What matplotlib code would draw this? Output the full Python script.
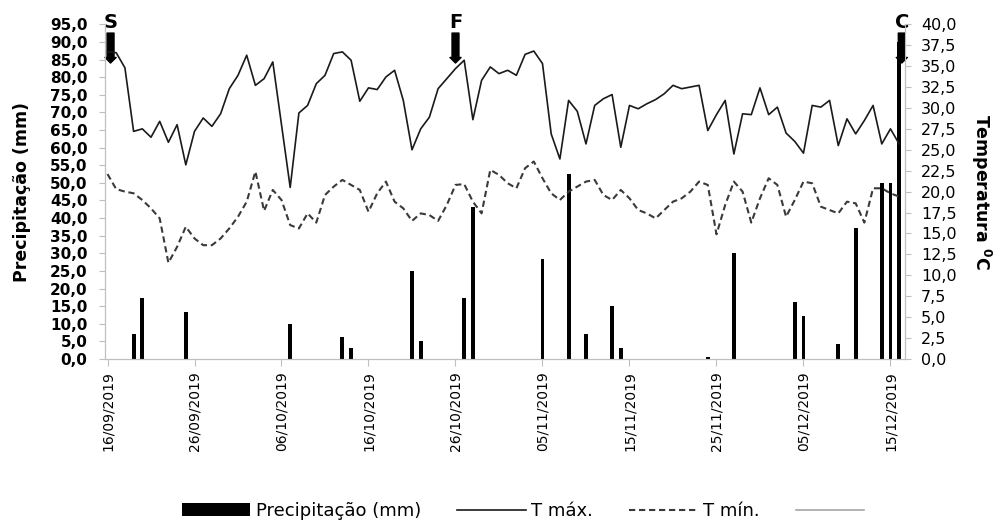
# Precipitação e temperaturas diárias, 16/09/2019 a 16/12/2019
import numpy as np
import matplotlib.pyplot as plt
from matplotlib.lines import Line2D
from matplotlib.patches import Patch

tick_days = [0, 10, 20, 30, 40, 50, 60, 70, 80, 90]
tick_labels = ['16/09/2019', '26/09/2019', '06/10/2019', '16/10/2019', '26/10/2019',
               '05/11/2019', '15/11/2019', '25/11/2019', '05/12/2019', '15/12/2019']

# precipitação diária (mm)
precip = [0, 0, 0, 7.0, 17.2, 0, 0, 0, 0, 13.2,
          0, 0, 0, 0, 0, 0, 0, 0, 0, 0,
          0, 10.0, 0, 0, 0, 0, 0, 6.2, 3.0, 0,
          0, 0, 0, 0, 0, 25.1, 5.2, 0, 0, 0,
          0, 17.2, 43.2, 0, 0, 0, 0, 0, 0, 0,
          28.4, 0, 0, 52.4, 0, 7.0, 0, 0, 15.0, 3.0,
          0, 0, 0, 0, 0, 0, 0, 0, 0, 0.5,
          0, 0, 30.0, 0, 0, 0, 0, 0, 0, 16.3,
          12.3, 0, 0, 0, 4.3, 0, 37.2, 0, 0, 50.0,
          50.0, 90.0]

t_max = [36.7, 36.6, 34.8, 27.2, 27.5, 26.5, 28.4, 25.9, 28.0, 23.2,
         27.2, 28.8, 27.8, 29.3, 32.3, 33.9, 36.3, 32.7, 33.5, 35.5,
         28.0, 20.5, 29.4, 30.3, 32.9, 33.9, 36.5, 36.7, 35.7, 30.8,
         32.4, 32.2, 33.7, 34.5, 30.9, 25.0, 27.5, 28.9, 32.3, 33.5,
         34.7, 35.7, 28.6, 33.3, 34.9, 34.1, 34.5, 33.9, 36.4, 36.8,
         35.3, 26.9, 23.9, 30.9, 29.6, 25.7, 30.3, 31.1, 31.6, 25.3,
         30.3, 29.9, 30.5, 31.0, 31.7, 32.7, 32.3, 32.5, 32.7, 27.3,
         29.2, 30.9, 24.5, 29.3, 29.2, 32.4, 29.2, 30.1, 27.0, 26.0,
         24.6, 30.3, 30.1, 30.9, 25.5, 28.7, 26.9, 28.5, 30.3, 25.7,
         27.5, 25.7]

t_min = [22.1, 20.3, 20.0, 19.8, 19.0, 18.0, 16.8, 11.5, 13.4, 15.8,
         14.4, 13.6, 13.6, 14.4, 15.6, 17.0, 18.8, 22.4, 17.7, 20.2,
         19.0, 16.0, 15.6, 17.4, 16.3, 19.6, 20.6, 21.4, 20.8, 20.2,
         17.6, 19.8, 21.2, 18.8, 18.0, 16.5, 17.4, 17.2, 16.5, 18.4,
         20.8, 20.9, 18.8, 17.4, 22.6, 22.0, 21.0, 20.4, 22.8, 23.6,
         21.6, 19.8, 19.0, 20.0, 20.6, 21.2, 21.4, 19.6, 19.0, 20.2,
         19.2, 17.8, 17.4, 16.8, 17.8, 18.8, 19.2, 20.0, 21.2, 20.8,
         14.9, 18.4, 21.2, 20.0, 16.3, 19.2, 21.6, 20.8, 17.0, 19.0,
         21.2, 21.0, 18.2, 17.8, 17.4, 18.8, 18.6, 16.3, 20.4, 20.4,
         19.8, 19.4]

# marcos S, F, C (dia, rótulo)
marks = [(0.35, 'S'), (40.0, 'F'), (91.3, 'C')]

days = np.arange(len(precip))
axis_col = '#bfbfbf'

fig = plt.figure(figsize=(10.05, 5.23), dpi=100)
ax = fig.add_axes([0.1042, 0.3136, 0.7963, 0.640])
ax2 = ax.twinx()

ax.bar(days, precip, width=0.45, color='black', zorder=2)
ax2.plot(days, t_max, color='#1a1a1a', lw=1.2, zorder=3)
ax2.plot(days, t_min, color='#3a3a3a', lw=1.5, dashes=(3.0, 1.8), zorder=3)

ax.set_xlim(-0.32, 91.67)
ax.set_ylim(0, 95)
ax2.set_ylim(0, 40)

ax.set_yticks(np.arange(0, 96, 5))
ax.set_yticklabels([f'{v:.1f}'.replace('.', ',') for v in np.arange(0, 96, 5)],
                   fontsize=11, fontweight='bold')
ax2.set_yticks(np.arange(0, 40.1, 2.5))
ax2.set_yticklabels([f'{v:.1f}'.replace('.', ',') for v in np.arange(0, 40.1, 2.5)],
                    fontsize=11.5)
ax.set_xticks(tick_days)
ax.set_xticklabels(tick_labels, rotation=90, fontsize=10)

for a in (ax, ax2):
    for s in a.spines.values():
        s.set_color(axis_col)
    a.spines['top'].set_visible(False)
ax.tick_params(axis='y', length=4.5, color=axis_col, pad=8)
ax2.tick_params(axis='y', length=4.5, color=axis_col, pad=7)
ax.tick_params(axis='x', length=5, color=axis_col, pad=4)

ax.set_ylabel('Precipitação (mm)', fontsize=12.5, fontweight='bold')
ax.yaxis.set_label_coords(-0.092, 0.5)
ax2.set_ylabel(r'Temperatura $\mathbf{^{0}}$C', fontsize=12.5, fontweight='bold',
               rotation=270, va='bottom')
ax2.yaxis.set_label_coords(1.08, 0.5)

for d, lab in marks:
    ax.annotate('', xy=(d, 84.0), xytext=(d, 92.5),
                arrowprops=dict(facecolor='black', edgecolor='black',
                                width=5, headwidth=8, headlength=4, shrink=0))
    ax.text(d, 95.5, lab, ha='center', va='center', fontsize=14,
            fontweight='bold', clip_on=False)

handles = [Patch(facecolor='black'),
           Line2D([], [], color='#1a1a1a', lw=1.2),
           Line2D([], [], color='#3a3a3a', lw=1.5, dashes=(3.0, 1.8)),
           Line2D([], [], color='#a6a6a6', lw=1.2)]
labels = ['Precipitação (mm)', 'T máx.', 'T mín.', '']
fig.legend(handles, labels, loc='center', bbox_to_anchor=(0.523, 0.023), ncol=4,
           frameon=False, handlelength=3.8, handleheight=0.7, handletextpad=0.3,
           columnspacing=2.0, prop={'size': 13})

fig.savefig('out.png', dpi=100)
